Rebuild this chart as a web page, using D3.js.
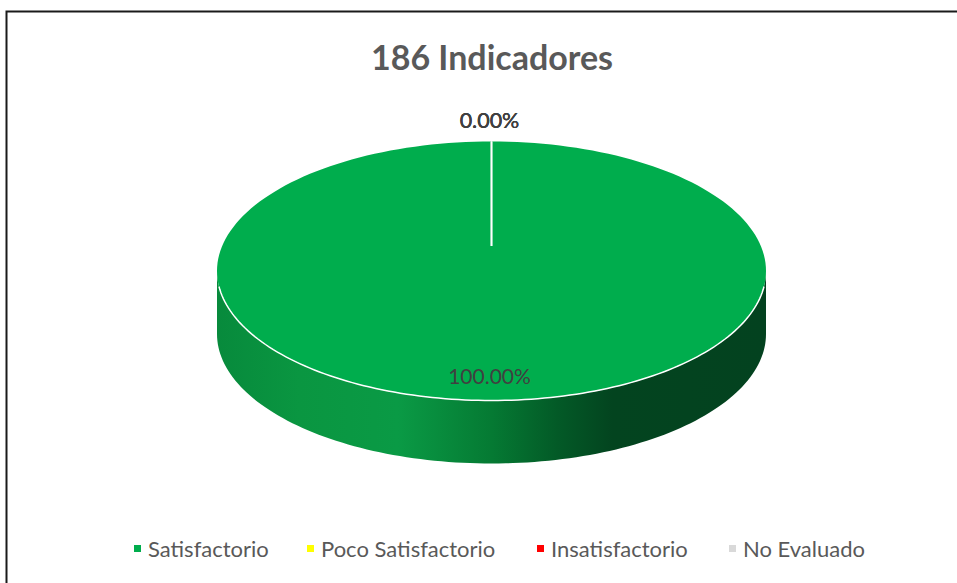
<!DOCTYPE html>
<html>
<head>
<meta charset="utf-8">
<script src="https://cdn.jsdelivr.net/npm/d3@7"></script>
<style>
  body { margin: 0; background: #fff; }
  text { font-family: "Lato", "Open Sans", sans-serif; }
</style>
</head>
<body>
<div id="chart"></div>
<script>
// Chart data
var categories = ["Satisfactorio", "Poco Satisfactorio", "Insatisfactorio", "No Evaluado"];
var values = [186, 0, 0, 0];
var colors = ["#00AD4D", "#FFFF00", "#FF0000", "#D9D9D9"];
var title = "186 Indicadores";

var svgWidth = 957;
var svgHeight = 583;

var svg = d3.select("#chart")
  .append("svg")
  .attr("width", svgWidth)
  .attr("height", svgHeight);

// frame of the chart area (cropped at the right and bottom)
svg.append("path")
  .attr("d", "M6.5," + svgHeight + " V11.5 H" + svgWidth)
  .attr("fill", "none")
  .attr("stroke", "#1a1a1a")
  .attr("stroke-width", 2);

// title
svg.append("text")
  .attr("x", 492)
  .attr("y", 70)
  .attr("text-anchor", "middle")
  .attr("fill", "#595959")
  .attr("font-weight", "bold")
  .attr("font-size", 34)
  .text(title);

// pie geometry
var cx = 491.5, cy = 271, rx = 274.5, ry = 129.5, depth = 63;
var hubY = 246; // perspective centre of the top face

var total = d3.sum(values);
var pie = d3.pie().sort(null).value(d => d);
var slices = pie(values);

function pt(a, dy) {
  return [cx + rx * Math.sin(a), cy - ry * Math.cos(a) + (dy || 0)];
}

// side gradient
var defs = svg.append("defs");
var grad = defs.append("linearGradient")
  .attr("id", "sideGrad")
  .attr("x1", "0%").attr("x2", "100%")
  .attr("y1", "0%").attr("y2", "0%");
[["0%", "#078a3c"], ["15%", "#0a9641"], ["33%", "#0a9a45"], ["50%", "#057a33"],
 ["62%", "#035a27"], ["72%", "#03441f"], ["100%", "#03421f"]].forEach(function(s) {
  grad.append("stop").attr("offset", s[0]).attr("stop-color", s[1]);
});

// side wall (front half of the disc)
var n = 120;
var front = d3.range(n + 1).map(i => Math.PI / 2 + Math.PI * i / n);
var sidePts = front.map(a => pt(a, 0))
  .concat(front.slice().reverse().map(a => pt(a, depth)));
svg.append("path")
  .attr("d", "M" + sidePts.map(p => p.join(",")).join("L") + "Z")
  .attr("fill", "url(#sideGrad)");

// top face slices
slices.forEach(function(s, i) {
  if (s.endAngle - s.startAngle <= 0) return;
  var steps = Math.max(2, Math.round(200 * (s.endAngle - s.startAngle) / (2 * Math.PI)));
  var arcPts = d3.range(steps + 1).map(k => pt(s.startAngle + (s.endAngle - s.startAngle) * k / steps));
  svg.append("path")
    .attr("d", "M" + cx + "," + hubY + "L" + arcPts.map(p => p.join(",")).join("L") + "Z")
    .attr("fill", colors[i]);
});

// white edge of the top face along the front
var edge = d3.range(n + 1).map(i => pt(Math.PI / 2 + 0.12 + (Math.PI - 0.24) * i / n));
svg.append("path")
  .attr("d", "M" + edge.map(p => p.join(",")).join("L"))
  .attr("fill", "none")
  .attr("stroke", "#fff")
  .attr("stroke-width", 1.5);

// slice boundaries
slices.forEach(function(s) {
  var p = pt(s.startAngle);
  if (values[0] === total && s.index === 0) return;
  svg.append("line")
    .attr("x1", cx).attr("y1", hubY)
    .attr("x2", p[0]).attr("y2", p[1])
    .attr("stroke", "#fff")
    .attr("stroke-width", 1.5);
});

// data labels
slices.forEach(function(s, i) {
  var pct = (values[i] / total * 100).toFixed(2) + "%";
  var mid = (s.startAngle + s.endAngle) / 2;
  var x, y, size;
  if (values[i] === 0) {
    x = pt(mid)[0] - 2; y = cy - ry - 14; size = 21.5;
  } else {
    x = cx - 2; y = cy + ry - 17; size = 21;
  }
  svg.append("text")
    .attr("x", x)
    .attr("y", y)
    .attr("text-anchor", "middle")
    .attr("fill", "#404040")
    .attr("font-size", size)
    .text(pct);
});

// legend
var legendX = [134, 307, 537, 729];
var legend = svg.selectAll(".legend")
  .data(categories)
  .enter()
  .append("g")
  .attr("transform", (d, i) => `translate(${legendX[i]}, 549)`);

legend.append("rect")
  .attr("x", 0).attr("y", -4)
  .attr("width", 7).attr("height", 7)
  .attr("fill", (d, i) => colors[i]);

legend.append("text")
  .attr("x", 14)
  .attr("y", 8)
  .attr("fill", "#595959")
  .attr("font-size", 22)
  .text(d => d);
</script>
</body>
</html>
